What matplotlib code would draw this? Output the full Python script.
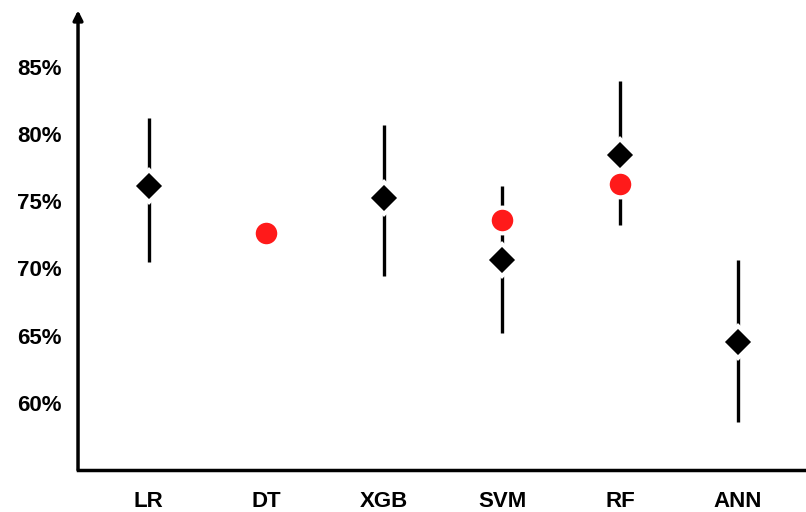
import matplotlib.pyplot as plt
import numpy as np

plt.rcParams['font.family'] = ['Liberation Sans', 'DejaVu Sans']

models = ['LR', 'DT', 'XGB', 'SVM', 'RF', 'ANN']

# black diamonds with their ranges (None = no diamond)
diamond = [76.1, None, 75.2, 70.6, 78.4, 64.5]
err_low = [70.5, None, 69.4, 65.2, 73.2, 58.6]
err_high = [81.2, None, 80.7, 76.1, 83.9, 70.6]

# red circles
circle = [None, 72.6, None, 73.6, 76.3, None]

fig = plt.figure(figsize=(8.06, 5.12), dpi=100)
ax = fig.add_axes([0.0968, 0.082, 0.9032, 0.898])

x = np.arange(len(models))
for i in x:
    if err_low[i] is not None:
        ax.vlines(i, err_low[i], err_high[i], color='black', lw=2.4, zorder=1)
    if diamond[i] is not None:
        ax.plot(i, diamond[i], marker='D', ms=16, color='black',
                mec='white', mew=3, zorder=3)
    if circle[i] is not None:
        ax.plot(i, circle[i], marker='o', ms=18.5, color='#ff1a1a',
                mec='white', mew=3, zorder=4)

ax.set_xlim(-0.6, 5.58)
ax.set_ylim(55.0, 89.2)
ax.set_xticks(x)
ax.set_xticklabels(models, fontsize=16, fontweight='bold')
yt = [60, 65, 70, 75, 80, 85]
ax.set_yticks(yt)
ax.set_yticklabels([f'{v}%' for v in yt], fontsize=16, fontweight='bold')
ax.tick_params(length=0)
ax.tick_params(axis='y', pad=12)
ax.tick_params(axis='x', pad=15)

for s in ['top', 'right', 'left']:
    ax.spines[s].set_visible(False)
ax.spines['bottom'].set_linewidth(2.5)
ax.annotate('', xy=(0, 1.0), xytext=(0, 0), xycoords='axes fraction',
            arrowprops=dict(arrowstyle='-|>', lw=2.5, color='black',
                            mutation_scale=14, shrinkA=0, shrinkB=0))

fig.savefig('out.png', dpi=100)
